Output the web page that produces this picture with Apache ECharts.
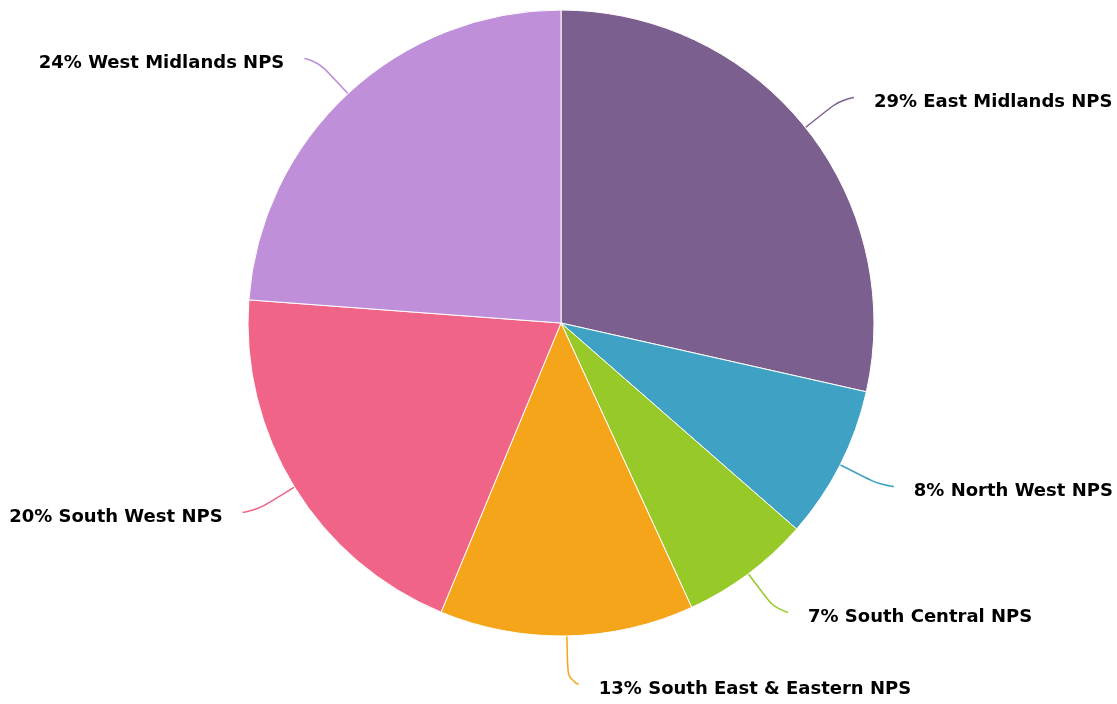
<!DOCTYPE html>
<html>
<head>
<meta charset="utf-8">
<script src="https://cdn.jsdelivr.net/npm/echarts@6/dist/echarts.min.js"></script>
<style>
  html, body { margin: 0; padding: 0; background: #fff; }
  #chart { width: 1117px; height: 704px; }
</style>
</head>
<body>
<div id="chart"></div>
<script>
const regions = ['East Midlands NPS', 'North West NPS', 'South Central NPS', 'South East & Eastern NPS', 'South West NPS', 'West Midlands NPS'];
const shares = [28.5, 7.9, 6.7, 13.1, 19.9, 23.8];
const colors = ['#7b5f8f', '#3fa1c3', '#97c928', '#f5a51a', '#f06487', '#bf8fd9'];

const total = shares.reduce((a, b) => a + b, 0);

const chart = echarts.init(document.getElementById('chart'));

chart.setOption({
    backgroundColor: '#fff',
    animation: false,
    series: [
        {
            type: 'pie',
            center: [561, 323],
            radius: 313,
            startAngle: 90,
            clockwise: true,
            itemStyle: {
                borderColor: '#fff',
                borderWidth: 1
            },
            label: {
                show: true,
                color: '#000',
                fontFamily: 'DejaVu Sans',
                fontWeight: 'bold',
                fontSize: 18,
                overflow: 'none',
                edgeDistance: 0,
                distanceToLabelLine: 20,
                formatter: p => Math.round(p.value / total * 100) + '% ' + p.name
            },
            labelLayout: {
                dy: 5
            },
            labelLine: {
                show: true,
                length: 48,
                length2: 11,
                smooth: 0.8,
                lineStyle: { width: 1.5 }
            },
            data: regions.map((name, i) => ({
                name: name,
                value: shares[i],
                itemStyle: { color: colors[i] }
            }))
        }
    ]
});
</script>
</body>
</html>
